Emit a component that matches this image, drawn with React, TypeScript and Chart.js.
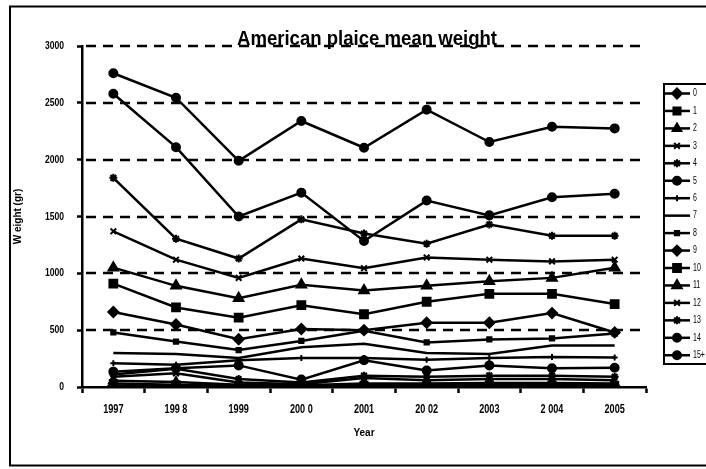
import React, { useEffect, useRef } from 'react';
import { Chart, registerables } from 'chart.js';
import { drawPoint } from 'chart.js/helpers';

Chart.register(...registerables);

// ---- data ----
const years = ['1997', '199 8', '1999', '200 0', '2001', '20 02', '2003', '2 004', '2005'];
const seriesNames = ['0', '1', '2', '3', '4', '5', '6', '7', '8', '9', '10', '11', '12', '13', '14', '15+'];
const yTickValues = [0, 500, 1000, 1500, 2000, 2500, 3000];

const age0 = [10, 8, 5, 5, 5, 5, 5, 5, 5];
const age1 = [30, 20, 10, 10, 15, 15, 20, 20, 15];
const age2 = [55, 45, 20, 15, 30, 30, 35, 35, 30];
const age3 = [90, 120, 40, 25, 80, 60, 70, 70, 60];
const age4 = [110, 160, 70, 40, 100, 90, 100, 100, 90];
const age5 = [135, 165, 190, 65, 235, 145, 190, 165, 170];
const age6 = [210, 195, 235, 255, 255, 240, 255, 265, 260];
const age7 = [300, 290, 255, 350, 380, 300, 290, 365, 365];
const age8 = [480, 400, 325, 405, 495, 392, 418, 427, 470];
const age9 = [660, 550, 420, 510, 500, 565, 565, 650, 480];
const age10 = [910, 700, 610, 720, 640, 750, 820, 820, 730];
const age11 = [1050, 890, 780, 900, 850, 890, 930, 960, 1050];
const age12 = [1370, 1120, 960, 1130, 1045, 1140, 1120, 1105, 1120];
const age13 = [1840, 1305, 1130, 1475, 1350, 1260, 1430, 1330, 1330];
const age14 = [2580, 2110, 1500, 1710, 1285, 1640, 1510, 1670, 1700];
const age15 = [2760, 2545, 1990, 2340, 2105, 2440, 2155, 2290, 2275];

const seriesData = [age0, age1, age2, age3, age4, age5, age6, age7, age8, age9, age10, age11, age12, age13, age14, age15];

// ---- styles ----
const pointStyles: any[] = ['rectRot', 'rect', 'triangle', 'crossRot', 'star', 'circle', 'cross', false, 'rect',
  'rectRot', 'rect', 'triangle', 'crossRot', 'star', 'circle', 'circle'];
const pointSizes = [5, 5, 5, 4, 4, 4, 3, 0, 3, 5, 5.5, 5.5, 4, 4, 4, 4];

const FONT = '"Liberation Sans", Arial, sans-serif';

function condensedText(ctx: CanvasRenderingContext2D, text: string, x: number, y: number, font: string,
  sx: number, align: CanvasTextAlign, baseline: CanvasTextBaseline) {
  ctx.save();
  ctx.font = font;
  ctx.textAlign = align;
  ctx.textBaseline = baseline;
  ctx.fillStyle = '#000';
  ctx.translate(x, y);
  ctx.scale(sx, 1);
  ctx.fillText(text, 0, 0);
  ctx.restore();
}

const decor = {
  id: 'decor',
  beforeDatasetsDraw(chart: any) {
    const { ctx, chartArea, scales } = chart;
    const ys = scales.y;
    ctx.save();
    ctx.strokeStyle = '#000';
    ctx.lineWidth = 2.5;
    ctx.setLineDash([10, 7]);
    yTickValues.forEach((v) => {
      if (v === 0) return;
      const py = Math.round(ys.getPixelForValue(v));
      ctx.beginPath();
      ctx.moveTo(chartArea.left + 4, py);
      ctx.lineTo(chartArea.right, py);
      ctx.stroke();
    });
    ctx.restore();
  },
  afterDraw(chart: any) {
    const { ctx, scales } = chart;
    const xs = scales.x;
    const ys = scales.y;

    // outer frame
    ctx.save();
    ctx.strokeStyle = '#000';
    ctx.lineWidth = 2;
    ctx.strokeRect(10, 6.5, 720, 459);
    ctx.restore();

    // x tick labels
    years.forEach((t, i) => {
      condensedText(ctx, t, xs.getPixelForValue(i), 409, 'bold 13px ' + FONT, 0.7, 'center', 'middle');
    });
    // y tick labels
    yTickValues.forEach((v) => {
      condensedText(ctx, String(v), 64, ys.getPixelForValue(v), 'bold 11px ' + FONT, 0.78, 'right', 'middle');
    });

    // title
    ctx.save();
    ctx.font = 'bold 20px ' + FONT;
    const w = ctx.measureText('American plaice mean weight').width;
    ctx.restore();
    condensedText(ctx, 'American plaice mean weight', 367, 45, 'bold 20px ' + FONT, 260 / w, 'center', 'alphabetic');

    // legend
    const lx = 664;
    const top = 84;
    const bottom = 364;
    ctx.save();
    ctx.strokeStyle = '#000';
    ctx.lineWidth = 2;
    ctx.strokeRect(lx, top, 80, bottom - top);
    seriesNames.forEach((name, i) => {
      const yy = 93.5 + i * 17.45;
      ctx.lineWidth = 2.5;
      ctx.strokeStyle = '#000';
      ctx.fillStyle = '#000';
      ctx.beginPath();
      ctx.moveTo(lx, yy);
      ctx.lineTo(690, yy);
      ctx.stroke();
      if (pointStyles[i]) {
        ctx.lineWidth = 2;
        drawPoint(ctx, { pointStyle: pointStyles[i], radius: pointSizes[i], rotation: 0, borderWidth: 2 } as any, 677, yy);
      }
      condensedText(ctx, name, 693, yy, '10px ' + FONT, 0.7, 'left', 'middle');
    });
    ctx.restore();
  },
};

export default function App() {
  const ref = useRef<HTMLCanvasElement>(null);
  useEffect(() => {
    const chart = new Chart(ref.current as HTMLCanvasElement, {
      type: 'line',
      data: {
        labels: years,
        datasets: seriesData.map((d, i) => ({
          label: seriesNames[i],
          data: d,
          borderColor: '#000',
          backgroundColor: '#000',
          borderWidth: 2.5,
          pointStyle: pointStyles[i],
          pointRadius: pointSizes[i],
          pointBackgroundColor: '#000',
          pointBorderColor: '#000',
          pointBorderWidth: 2,
          tension: 0,
        })),
      },
      options: {
        animation: false,
        responsive: false,
        devicePixelRatio: 1,
        layout: { padding: { left: 0, top: 46, right: 60, bottom: 0 } },
        plugins: {
          legend: { display: false },
          title: { display: false },
          tooltip: { enabled: false },
        },
        scales: {
          x: {
            type: 'category',
            offset: true,
            grid: {
              display: true,
              offset: true,
              drawOnChartArea: false,
              drawTicks: true,
              tickLength: 6,
              tickWidth: 2.5,
              tickColor: '#000',
            },
            border: { display: true, color: '#000', width: 2.5 },
            ticks: { display: false },
            title: {
              display: true,
              text: 'Year',
              color: '#000',
              font: { family: FONT, size: 10, weight: 'bold' },
              padding: { top: 0, bottom: 30 },
            },
            afterFit(scale: any) {
              scale.height = 82;
            },
          },
          y: {
            min: 0,
            max: 3000,
            ticks: { display: false, stepSize: 500 },
            grid: {
              display: true,
              drawOnChartArea: false,
              drawTicks: true,
              tickLength: 5,
              tickWidth: 2.5,
              tickColor: '#000',
            },
            border: { display: true, color: '#000', width: 2.5 },
            title: {
              display: true,
              text: 'W eight (gr)',
              color: '#000',
              font: { family: FONT, size: 10, weight: 'bold' },
              padding: { top: 12, bottom: 0 },
            },
            afterFit(scale: any) {
              scale.width = 82;
            },
          },
        },
      } as any,
      plugins: [decor],
    });
    return () => chart.destroy();
  }, []);
  return (
    <div style={{ position: 'fixed', left: 0, top: 0, width: 706, height: 469, background: '#fff' }}>
      <canvas ref={ref} width={706} height={469} style={{ display: 'block', width: 706, height: 469 }} />
    </div>
  );
}
